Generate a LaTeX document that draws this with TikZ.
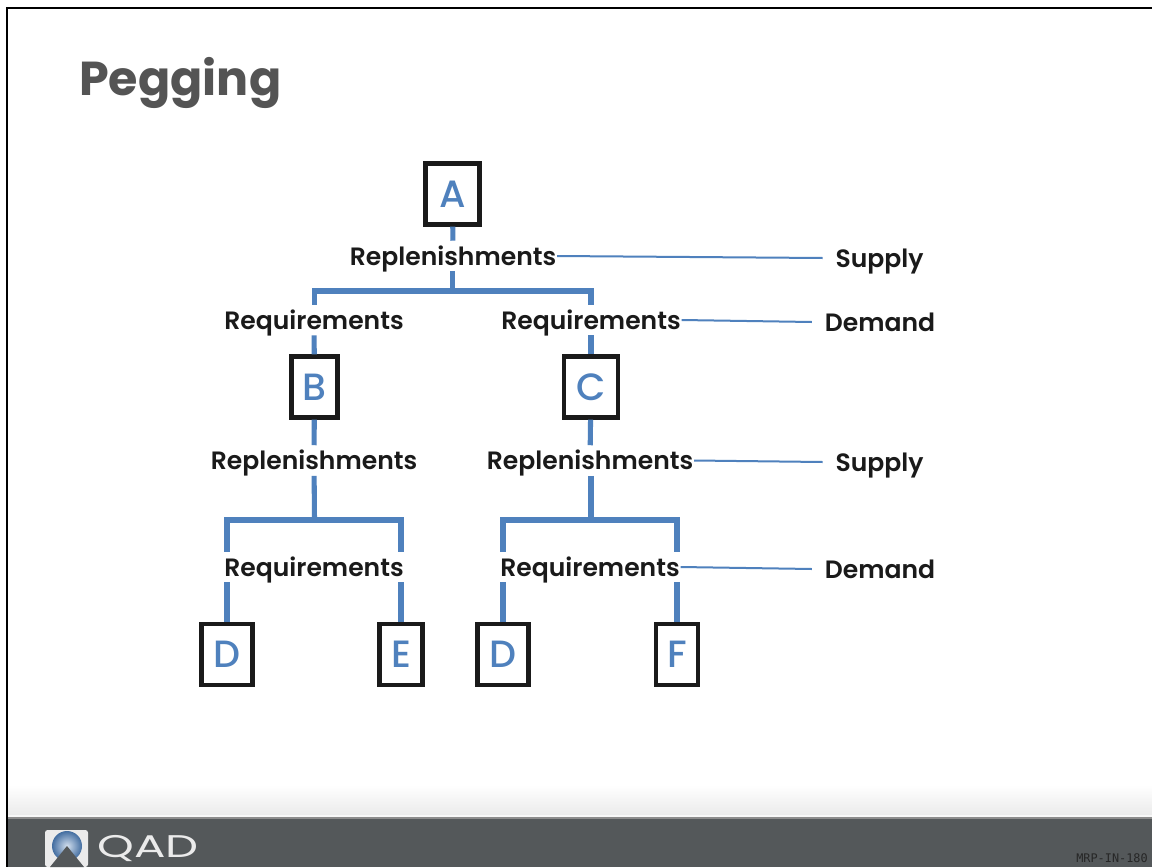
\documentclass[tikz,border=0pt]{standalone}
\usepackage{fontspec}
\setmainfont{Poppins SemiBold}
\newfontfamily\titlefont{Poppins}[Scale=1]
\newfontfamily\boxfont{Poppins Medium}
\newfontfamily\logofont{Poppins}[FakeStretch=1.49]
\newfontfamily\codefont{DejaVu Sans Mono}
\definecolor{lineblue}{HTML}{4F81BD}
\definecolor{titlegrey}{HTML}{545454}
\definecolor{footdark}{HTML}{54585A}
\definecolor{frameblack}{HTML}{1A1A1A}
\tikzset{
  px/.style={x=0.75pt,y=-0.75pt},
  itembox/.style={draw=frameblack,line width=3.4pt,fill=white,inner sep=0pt,minimum height=45.5pt,text=lineblue,font=\boxfont\fontsize{28.5}{28.5}\selectfont},
  lbl/.style={inner xsep=0.5pt,inner ysep=0pt,text height=18pt,text depth=4.5pt,text=frameblack,font=\fontsize{18.8}{20}\selectfont},
  side/.style={inner xsep=9.5pt,inner ysep=0pt,text height=18pt,text depth=4.5pt,text=frameblack,font=\fontsize{18.8}{20}\selectfont},
  thick link/.style={draw=lineblue,line width=3.8pt},
  thin link/.style={draw=lineblue,line width=1.5pt}
}
\begin{document}
\begin{tikzpicture}[px]
\useasboundingbox (0,0) rectangle (1152,867);
\fill[white] (0,0) rectangle (1152,867);
% footer
\shade[top color=white,bottom color=black!8] (8,785) rectangle (1152,815);
\fill[black!3] (8,815) rectangle (1152,817);
\fill[black!45] (8,817) rectangle (1152,819);
\fill[footdark] (8,819) rectangle (1152,867);
% frame
\fill[black] (6,7) rectangle (1152,9);
\fill[black] (6,7) rectangle (8,867);
% title
\node[anchor=base west,inner sep=0pt,text=titlegrey,font=\titlefont\bfseries\fontsize{35.7}{36}\selectfont] (title) at (79,95) {Pegging};
% items
\node[itembox,minimum width=40.5pt] (A) at (452.5,194) {A};
\node[itembox,minimum width=34.5pt] (B) at (314.5,387) {B};
\node[itembox,minimum width=40.5pt] (C) at (591,387) {C};
\node[itembox,minimum width=38.5pt] (D1) at (227,654.5) {D};
\node[itembox,minimum width=32.5pt] (E) at (401,654.5) {E};
\node[itembox,minimum width=38.5pt] (D2) at (503,654.5) {D};
\node[itembox,minimum width=31.5pt] (F) at (677,654.5) {F};
% labels
\node[lbl] (R1) at (453,256) {Replenishments};
\node[lbl] (Q1) at (314,320) {Requirements};
\node[lbl] (Q2) at (591,320) {Requirements};
\node[lbl] (R2) at (314,460.5) {Replenishments};
\node[lbl] (R3) at (590,460.5) {Replenishments};
\node[lbl] (Q3) at (314,567) {Requirements};
\node[lbl] (Q4) at (590,567) {Requirements};
\node[side] (S1) at (879.5,258) {Supply};
\node[side] (M1) at (880,322) {Demand};
\node[side] (S2) at (879.5,462) {Supply};
\node[side] (M2) at (880,569) {Demand};
% junctions
\coordinate (j1) at (452.5,291);
\coordinate (j2) at (314.5,520);
\coordinate (j3) at (591,520);
% thick links
\draw[thick link] (A) -- (R1);
\draw[thick link] (R1.south -| j1) -- (j1);
\draw[thick link] (Q1.north -| B) |- (j1) -| (Q2.north -| C);
\draw[thick link] (Q1) -- (B);
\draw[thick link] (Q2) -- (C);
\draw[thick link] (B) -- (R2);
\draw[thick link] (R2) -- (j2);
\draw[thick link] (C) -- (R3);
\draw[thick link] (R3.south -| j3) -- (j3);
\draw[thick link] (Q3.north -| D1) |- (j2) -| (Q3.north -| E);
\draw[thick link] (Q4.north -| D2) |- (j3) -| (Q4.north -| F);
\draw[thick link] (Q3.south -| D1) -- (D1);
\draw[thick link] (Q3.south -| E) -- (E);
\draw[thick link] (Q4.south -| D2) -- (D2);
\draw[thick link] (Q4.south -| F) -- (F);
% thin links
\draw[thin link] (R1.east) -- (S1.west);
\draw[thin link] (Q2.east) -- (M1.west);
\draw[thin link] (R3.east) -- (S2.west);
\draw[thin link] (Q4.east) -- (M2.west);
% logo
\fill[white!92!black,rounded corners=2pt] (45,830) rectangle (88,867);
\begin{scope}
\clip (52,831) rectangle (83,861);
\shade[inner color=white!75!lineblue,outer color=lineblue!85!black] (67,846) circle (15);
\end{scope}
\fill[footdark] (67,846) -- (50,867) -- (84,867) -- cycle;
\node[anchor=base west,inner sep=0pt,text=white!92!black,font=\logofont\fontsize{23.5}{24}\selectfont] (qad) at (97,857.5) {QAD};
\node[anchor=east,inner sep=0pt,text=black!85,font=\codefont\fontsize{8.9}{9}\selectfont] (code) at (1148,858) {MRP-IN-180};
\end{tikzpicture}
\end{document}
